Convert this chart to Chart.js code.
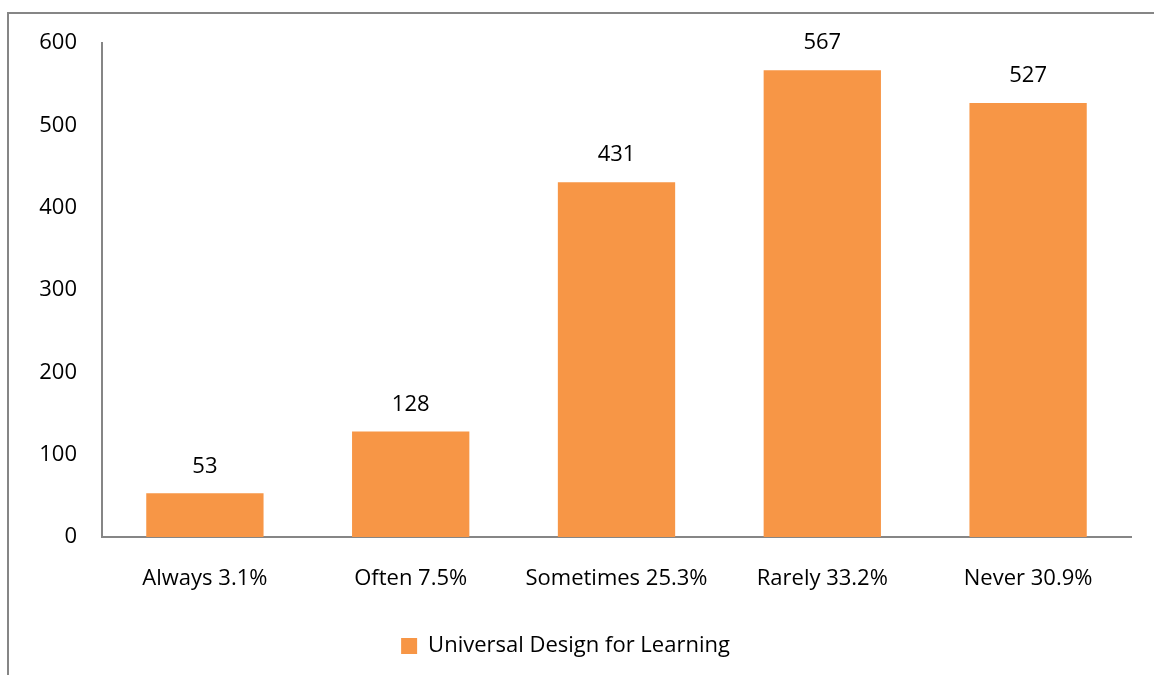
<!DOCTYPE html>
<html>
<head>
<meta charset="utf-8">
<script src="https://cdn.jsdelivr.net/npm/chart.js@4"></script>
<style>
  body { margin: 0; background: #fff; }
  #frame {
    position: absolute; left: 7px; top: 12px; width: 1160px; height: 680px;
    border-top: 2px solid #868686; border-left: 2px solid #868686;
  }
  #wrap { position: absolute; left: 0; top: 0; width: 1154px; height: 675px; }
</style>
</head>
<body>
<div id="frame"></div>
<div id="wrap"><canvas id="barChart"></canvas></div>
<script>
let categories = ["Always 3.1%", "Often 7.5%", "Sometimes 25.3%", "Rarely 33.2%", "Never 30.9%"];
let counts = [53, 128, 431, 567, 527];
let seriesName = "Universal Design for Learning";
let yTicks = [0, 100, 200, 300, 400, 500, 600];

const FONT = "'Open Sans', sans-serif";

//Value labels on top of bars
let valueLabels = {
  id: "valueLabels",
  afterDatasetsDraw(chart) {
    let ctx = chart.ctx;
    let meta = chart.getDatasetMeta(0);
    ctx.save();
    ctx.font = "22px " + FONT;
    ctx.fillStyle = "#000";
    ctx.textAlign = "center";
    ctx.textBaseline = "middle";
    meta.data.forEach((bar, i) => {
      ctx.fillText(counts[i], bar.x, bar.y - 27);
    });
    ctx.restore();
  },
};

new Chart(document.getElementById("barChart"), {
  type: "bar",
  data: {
    labels: categories,
    datasets: [
      {
        label: seriesName,
        data: counts,
        backgroundColor: "#F79646",
        barPercentage: 0.57,
        categoryPercentage: 1,
      },
    ],
  },
  options: {
    responsive: true,
    maintainAspectRatio: false,
    animation: false,
    layout: { padding: { top: 43, right: 23, left: 0, bottom: 8 } },
    plugins: {
      legend: {
        position: "bottom",
        labels: {
          color: "#000",
          font: { family: FONT, size: 22 },
          boxWidth: 16,
          boxHeight: 16,
          padding: 10,
        },
      },
      tooltip: { enabled: false },
    },
    scales: {
      x: {
        grid: { display: false, drawTicks: false },
        border: { display: true, color: "#868686", width: 2 },
        ticks: { color: "#000", font: { family: FONT, size: 22 }, padding: 29 },
        afterFit: (axis) => { axis.height = 88; },
      },
      y: {
        min: 0,
        max: 600,
        grid: { display: false, drawTicks: false },
        border: { display: true, color: "#868686", width: 2 },
        afterBuildTicks: (axis) => { axis.ticks = yTicks.map((v) => ({ value: v })); },
        ticks: { color: "#000", font: { family: FONT, size: 22 }, padding: 25 },
        afterFit: (axis) => { axis.width = 102; },
      },
    },
  },
  plugins: [valueLabels],
});
</script>
</body>
</html>
